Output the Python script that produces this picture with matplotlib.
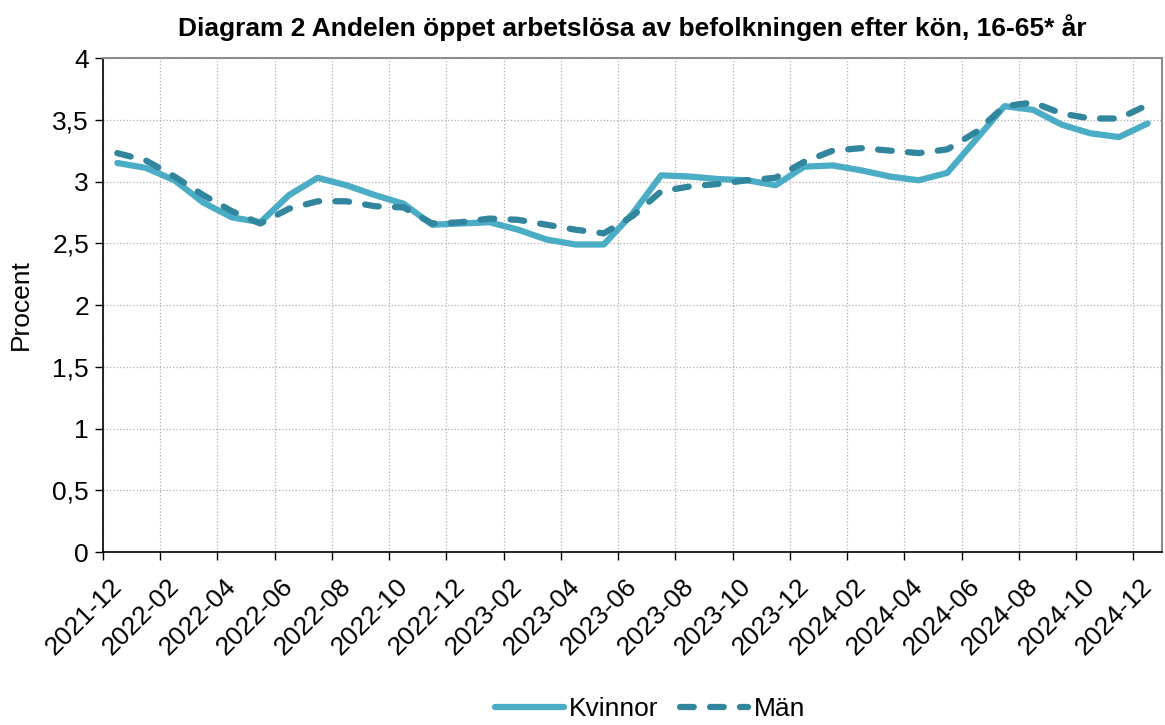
import numpy as np
import matplotlib.pyplot as plt
import matplotlib.transforms as mtransforms
from matplotlib.ticker import FuncFormatter

plt.rcParams['font.family'] = ['Liberation Sans', 'DejaVu Sans']

# Monthly values, 2021-12 .. 2024-12
months = ['2021-12', '2022-01', '2022-02', '2022-03', '2022-04', '2022-05', '2022-06',
          '2022-07', '2022-08', '2022-09', '2022-10', '2022-11', '2022-12',
          '2023-01', '2023-02', '2023-03', '2023-04', '2023-05', '2023-06',
          '2023-07', '2023-08', '2023-09', '2023-10', '2023-11', '2023-12',
          '2024-01', '2024-02', '2024-03', '2024-04', '2024-05', '2024-06',
          '2024-07', '2024-08', '2024-09', '2024-10', '2024-11', '2024-12']

kvinnor = [3.15, 3.11, 3.01, 2.83, 2.71, 2.67, 2.89, 3.03, 2.97, 2.89, 2.82, 2.65, 2.66,
           2.67, 2.61, 2.53, 2.49, 2.49, 2.74, 3.05, 3.04, 3.02, 3.01, 2.97, 3.12,
           3.13, 3.09, 3.04, 3.01, 3.07, 3.34, 3.61, 3.58, 3.46, 3.39, 3.36, 3.47]

man = [3.23, 3.17, 3.04, 2.89, 2.76, 2.66, 2.78, 2.84, 2.84, 2.80, 2.79, 2.66, 2.67,
       2.70, 2.69, 2.65, 2.61, 2.58, 2.72, 2.92, 2.96, 2.98, 3.01, 3.03, 3.16,
       3.25, 3.27, 3.25, 3.23, 3.26, 3.40, 3.61, 3.64, 3.55, 3.51, 3.51, 3.62]

x = np.arange(len(months))

fig = plt.figure(figsize=(11.65, 7.25), dpi=100)
ax = fig.add_axes([0.0884, 0.2386, 0.9090, 0.6814])

ax.plot(x, kvinnor, color='#4BACC6', lw=4.5, solid_capstyle='round', label='Kvinnor', zorder=3)
ax.plot(x, man, color='#31859C', lw=4.5, dashes=(2.2, 2.6), dash_capstyle='round',
        label='Män', zorder=4)

ax.set_xlim(-0.5, len(months) - 0.5)
ax.set_ylim(0, 4)
ax.set_yticks(np.arange(0, 4.01, 0.5))
ax.yaxis.set_major_formatter(FuncFormatter(lambda v, p: ('%g' % v).replace('.', ',')))

# category boundaries (ticks + grid) every second month, labels on the category centres
ax.set_xticks(np.arange(-0.5, len(months), 2))
ax.set_xticklabels([])
ax.set_xticks(x[::2], minor=True)
ax.set_xticklabels(months[::2], minor=True, rotation=45, ha='right', rotation_mode='anchor')
ax.tick_params(axis='x', which='minor', length=0, labelsize=19, pad=16)
ax.tick_params(axis='x', which='major', direction='out', length=6, width=1, color='black')
ax.tick_params(axis='y', direction='out', length=6, width=1, labelsize=19, pad=4)

shift = mtransforms.ScaledTranslation(-8 / 100, 0, fig.dpi_scale_trans)
for lab in ax.get_xticklabels(minor=True):
    lab.set_transform(lab.get_transform() + shift)

ax.grid(True, which='major', color='#B0B0B0', linestyle=':', linewidth=0.9)
ax.set_axisbelow(True)

for s in ['top', 'right']:
    ax.spines[s].set_color('#8C8C8C')
    ax.spines[s].set_linewidth(1.5)
for s in ['left', 'bottom']:
    ax.spines[s].set_color('black')
    ax.spines[s].set_linewidth(1.2)

ax.set_ylabel('Procent', fontsize=19, labelpad=14)
ax.set_title('Diagram 2 Andelen öppet arbetslösa av befolkningen efter kön, 16-65* år',
             fontsize=19, fontweight='bold', pad=16)

fig.legend(loc='center', bbox_to_anchor=(650 / 1165, 1 - 709 / 725), ncol=2, frameon=False,
           fontsize=19, handlelength=2.6, handletextpad=0.2, columnspacing=0.8)

fig.savefig('out.png', dpi=100)
